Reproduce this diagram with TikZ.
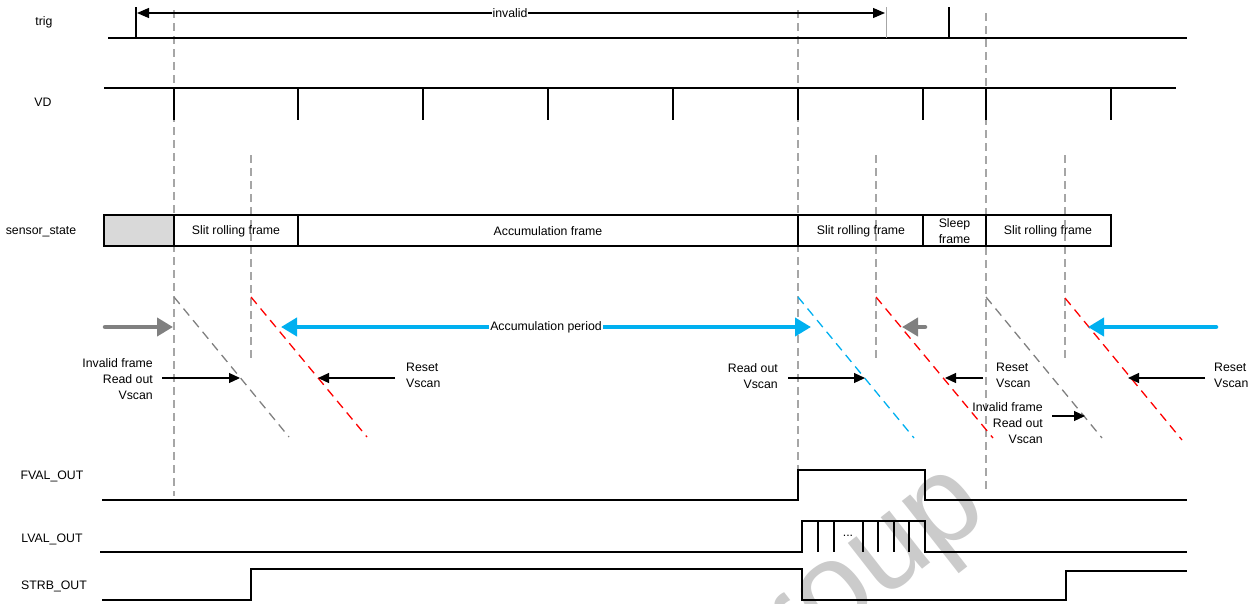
\documentclass[tikz,border=0pt]{standalone}
\usepackage{fontspec}
\setmainfont{Liberation Sans}
\usetikzlibrary{arrows.meta}
\definecolor{cyanA}{HTML}{00B0F0}
\definecolor{guideg}{HTML}{A6A6A6}
\definecolor{scang}{HTML}{808080}
\definecolor{wmgray}{HTML}{CBCBCB}
\definecolor{boxg}{HTML}{D9D9D9}
\begin{document}
\begin{tikzpicture}[x=1pt,y=-1pt,font=\fontsize{12.3}{16}\selectfont,
  sig/.style={line width=1.3pt,black},
  guide/.style={guideg,line width=1.3pt,dash pattern=on 8pt off 5pt},
  scanline/.style={line width=1.3pt,dash pattern=on 9pt off 6pt},
  statebox/.style={draw,line width=1.3pt},
  lbl/.style={inner sep=0pt},
  small/.style={line width=1.2pt,-{Triangle[length=11pt,width=10pt]}},
  thick/.style={line width=4.5pt,line cap=round,-{Triangle[length=16pt,width=18pt]}},
  thickboth/.style={line width=4.5pt,{Triangle[length=16pt,width=18pt]}-{Triangle[length=16pt,width=18pt]}},
  txt/.style={inner sep=0pt,align=center}]
\useasboundingbox (0,0) rectangle (1259,603);
% watermark
\node[rotate=38,text=wmgray,inner sep=0pt,font=\fontsize{125}{125}\selectfont] (wm) at (836,598) {Group};
% signal names
\node[lbl] (ntrig) at (44,22) {trig};
\node[lbl] (nvd) at (43,102) {VD};
\node[lbl] (nss) at (41,232) {sensor\_state};
\node[lbl] (nfval) at (52,476) {FVAL\_OUT};
\node[lbl] (nlval) at (52,539) {LVAL\_OUT};
\node[lbl] (nstrb) at (54,586) {STRB\_OUT};
% guide dashed lines
\draw[guide] (174,10) -- (174,496);
\draw[guide] (798,10) -- (798,470);
\draw[guide] (986,13) -- (986,492);
\draw[guide] (251,155) -- (251,358);
\draw[guide] (876,155) -- (876,358);
\draw[guide] (1065,155) -- (1065,360);
% trig
\draw[sig] (108,38) -- (1187,38);
\draw[sig] (136,38) -- (136,7);
\draw[sig] (949,38) -- (949,7);
\draw[guideg,line width=1pt] (886,38) -- (886,7);
\coordinate (ia) at (137,13);
\coordinate (ib) at (885,13);
\draw[line width=1.2pt,{Triangle[length=12pt,width=10pt]}-{Triangle[length=12pt,width=10pt]}] (ia) -- (ib);
\node[lbl,fill=white,inner xsep=1pt] (ninv) at (510,13) {invalid};
% VD
\draw[sig] (104,88) -- (1176,88);
\foreach \x in {174,298,423,548,673,798,923,986,1111}{\draw[sig] (\x,88) -- (\x,120);}
% sensor state
\draw[statebox,fill=boxg] (104,215) rectangle (174,246);
\draw[statebox] (174,215) rectangle (298,246);
\draw[statebox] (298,215) rectangle (798,246);
\draw[statebox] (798,215) rectangle (923,246);
\draw[statebox] (923,215) rectangle (986,246);
\draw[statebox] (986,215) rectangle (1111,246);
\node[txt] (b1) at (236,231) {Slit rolling frame};
\node[txt] (b2) at (548,231) {Accumulation frame};
\node[txt] (b3) at (861,231) {Slit rolling frame};
\node[txt] (b4) at (954.5,231) {Sleep\\frame};
\node[txt] (b5) at (1048,231) {Slit rolling frame};
% scan lines
\draw[scanline,scang] (174,297) -- (289,437);
\draw[scanline,red] (251,297) -- (367,437);
\draw[scanline,cyanA] (798,297) -- (914,438);
\draw[scanline,red] (876,297) -- (993,438);
\draw[scanline,scang] (986,297) -- (1102,438);
\draw[scanline,red] (1065,298) -- (1182,440);
% thick arrows
\coordinate (g1a) at (105,327); \coordinate (g1b) at (173,327);
\draw[thick,scang] (g1a) -- (g1b);
\coordinate (c1a) at (281,327); \coordinate (c1b) at (811,327);
\draw[thickboth,cyanA] (c1a) -- (c1b);
\node[lbl,fill=white,inner xsep=1pt] (nacc) at (546,327) {Accumulation period};
\coordinate (g2a) at (925,327); \coordinate (g2b) at (902,327);
\draw[thick,scang] (g2a) -- (g2b);
\coordinate (c2a) at (1216,327); \coordinate (c2b) at (1088,327);
\draw[thick,cyanA] (c2a) -- (c2b);
% labels and small arrows
\node[lbl,anchor=north east,align=right] (t1) at (153,358) {Invalid frame\\Read out\\Vscan};
\coordinate (a1a) at (162,378); \coordinate (a1b) at (240,378);
\draw[small] (a1a) -- (a1b);
\node[lbl,anchor=north west,align=left] (t2) at (406,363) {Reset\\Vscan};
\coordinate (a2a) at (395,378); \coordinate (a2b) at (318,378);
\draw[small] (a2a) -- (a2b);
\node[lbl,anchor=north east,align=right] (t3) at (778,363) {Read out\\Vscan};
\coordinate (a3a) at (788,378); \coordinate (a3b) at (865,378);
\draw[small] (a3a) -- (a3b);
\node[lbl,anchor=north west,align=left] (t4) at (996,363) {Reset\\Vscan};
\coordinate (a4a) at (983,378); \coordinate (a4b) at (945,378);
\draw[small] (a4a) -- (a4b);
\node[lbl,anchor=north east,align=right] (t5) at (1043,402) {Invalid frame\\Read out\\Vscan};
\coordinate (a5a) at (1052,416); \coordinate (a5b) at (1085,416);
\draw[small] (a5a) -- (a5b);
\node[lbl,anchor=north west,align=left] (t6) at (1214,363) {Reset\\Vscan};
\coordinate (a6a) at (1205,378); \coordinate (a6b) at (1128,378);
\draw[small] (a6a) -- (a6b);
% FVAL
\draw[sig] (102,500) -- (798,500) -- (798,470) -- (925,470) -- (925,500) -- (1187,500);
% LVAL
\draw[sig] (100,552) -- (802,552) -- (802,521) -- (925,521) -- (925,552) -- (1187,552);
\foreach \x in {818,834,863,878,894,909}{\draw[sig] (\x,521) -- (\x,552);}
\node[lbl] (ndots) at (848,536) {...};
% STRB
\draw[sig] (102,600) -- (251,600) -- (251,569) -- (802,569) -- (802,600) -- (1066,600) -- (1066,571) -- (1187,571);
\end{tikzpicture}
\end{document}
